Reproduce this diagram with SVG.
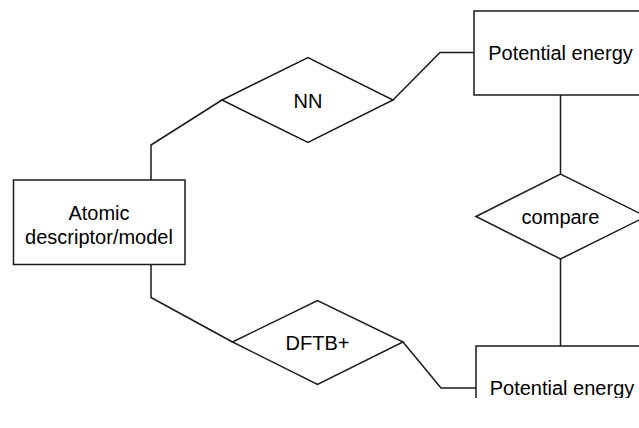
<svg xmlns="http://www.w3.org/2000/svg" width="639" height="428" viewBox="0 0 639 428">
<style>
.shape{fill:#fff;stroke:#1a1a1a;stroke-width:1.5}
.edge{fill:none;stroke:#1a1a1a;stroke-width:1.5}
.lbl{font-family:"Liberation Sans",Arial,sans-serif;font-size:20px;fill:#000;text-anchor:middle;dominant-baseline:central}
</style>
<defs>
<clipPath id="clip"><rect x="0" y="0" width="639" height="398"/></clipPath>
</defs>
<rect x="0" y="0" width="639" height="428" fill="#fff"/>
<g clip-path="url(#clip)">
<g id="connectors">
<polyline class="edge" points="222,100 151,145 151,180"/>
<polyline class="edge" points="393,100 440,52.5 474,52.5"/>
<polyline class="edge" points="151,264 151,297.5 232.5,342"/>
<polyline class="edge" points="403,342 441,388 476,388"/>
<line class="edge" x1="560.5" y1="95" x2="560.5" y2="174"/>
<line class="edge" x1="560.5" y1="259" x2="560.5" y2="346"/>
</g>
<g id="atomic">
<rect class="shape" x="13.5" y="180" width="171.5" height="84.5"/>
<text class="lbl" x="99" y="212.5">Atomic</text>
<text class="lbl" x="99" y="237">descriptor/model</text>
</g>
<g id="nn">
<polygon class="shape" points="222,100 308,57.5 393,100 308,142.5"/>
<text class="lbl" x="308" y="100.5">NN</text>
</g>
<g id="dftb">
<polygon class="shape" points="232.5,342 317.5,300.5 403,342 317.5,384.5"/>
<text class="lbl" x="317.5" y="342.5">DFTB+</text>
</g>
<g id="pe-top">
<rect class="shape" x="474" y="11" width="173" height="84"/>
<text class="lbl" x="560.5" y="53">Potential energy</text>
</g>
<g id="compare">
<polygon class="shape" points="476,216.5 560.5,174 646,216.5 560.5,259"/>
<text class="lbl" x="560.5" y="217">compare</text>
</g>
<g id="pe-bottom">
<rect class="shape" x="476" y="346" width="173" height="84"/>
<text class="lbl" x="562" y="388">Potential energy</text>
</g>
</g>
</svg>
